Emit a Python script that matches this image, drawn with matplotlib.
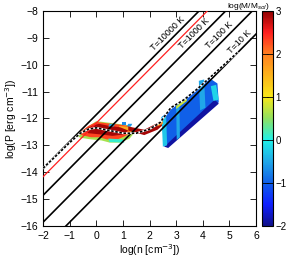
import numpy as np
import matplotlib.pyplot as plt
from matplotlib.colors import LinearSegmentedColormap, Normalize
from matplotlib.cm import ScalarMappable

plt.rcParams['font.family'] = ['Liberation Sans', 'DejaVu Sans']

# isotherm temperatures (K) and Boltzmann constant
temps = [10, 100, 1000, 10000]
kb = 1.38e-16
red_offset = -12.17  # extra red reference line (log P - log n)

# equilibrium curve
curve_n = [-2, -1.5, -1.0, -0.6, -0.3, 0.0, 0.5, 1.0, 1.5, 2.0, 2.4, 2.8, 3.3, 3.8, 4.3, 4.8, 5.3]
curve_p = [-13.85, -13.38, -12.9, -12.55, -12.4, -12.35, -12.45, -12.55, -12.55, -12.4, -12.15,
           -11.6, -11.3, -10.9, -10.45, -10.0, -9.55]

# gas patches: outline (log n, log P) and log(M/Msol)
patch_n = [
    [-0.75, -0.3, 0.0, 0.4, 0.8, 1.2, 1.5, 1.25, 0.9, 0.5, 0.2, -0.2, -0.6],
    [-0.65, -0.3, 0.0, 0.4, 0.8, 1.2, 1.4, 1.1, 0.8, 0.4, 0.1, -0.2, -0.55],
    [0.85, 1.3, 1.35, 0.9],
    [-0.5, -0.1, 0.1, 0.5, 0.9, 1.2, 1.0, 0.6, 0.2, -0.3],
    [0.45, 0.65, 0.7, 0.5],
    [0.95, 1.1, 1.1, 0.95],
    [1.15, 1.3, 1.35, 1.2],
    [0.45, 1.0, 1.05, 0.5],
    [1.2, 1.8, 2.3, 2.55, 2.4, 1.8, 1.2],
    [2.45, 4.25, 4.55, 4.6, 2.55],
    [2.55, 2.7, 4.6, 4.45],
    [2.45, 2.62, 2.66, 2.5],
    [3.0, 3.12, 3.14, 3.02],
    [3.85, 4.05, 4.1, 3.9],
    [4.3, 4.5, 4.6, 4.4],
    [3.0, 3.4, 3.4, 3.0],
    [2.3, 2.5, 2.5, 2.3],
]
patch_p = [
    [-12.62, -12.3, -12.1, -12.15, -12.2, -12.25, -12.45, -12.75, -12.9, -12.9, -12.82, -12.78, -12.72],
    [-12.55, -12.28, -12.13, -12.18, -12.22, -12.28, -12.45, -12.65, -12.78, -12.78, -12.7, -12.7, -12.62],
    [-12.28, -12.32, -12.5, -12.45],
    [-12.45, -12.25, -12.2, -12.28, -12.33, -12.45, -12.6, -12.65, -12.6, -12.55],
    [-12.3, -12.3, -12.2, -12.2],
    [-12.25, -12.25, -12.15, -12.15],
    [-12.3, -12.3, -12.2, -12.2],
    [-12.75, -12.78, -12.9, -12.88],
    [-12.45, -12.62, -12.42, -12.2, -12.12, -12.42, -12.3],
    [-11.95, -10.5, -10.7, -11.4, -13.05],
    [-13.05, -13.1, -11.45, -11.3],
    [-11.95, -11.85, -13.0, -13.05],
    [-11.5, -11.4, -12.7, -12.8],
    [-10.6, -10.55, -11.6, -11.7],
    [-10.8, -10.75, -11.3, -11.35],
    [-11.65, -11.35, -11.25, -11.55],
    [-12.3, -12.2, -12.1, -12.2],
]
patch_m = [0.6, 2.3, 1.6, 2.9, -0.4, -0.7, -0.6, 0.1, 2.9, -1.0, -1.9, -0.3, -0.5, -0.5, -0.2, 0.8, 1.8]

cmap = LinearSegmentedColormap.from_list('mass', [
    (0.0, '#10108a'), (0.1, '#1020ff'), (0.2, '#1060e8'), (0.3, '#20a8e8'),
    (0.4, '#20f0e8'), (0.5, '#90e060'), (0.6, '#f8e818'), (0.8, '#ff8020'),
    (0.9, '#ff2020'), (1.0, '#900000')])
norm = Normalize(-2, 3)

fig = plt.figure(figsize=(2.89, 2.6), dpi=100)
ax = fig.add_axes([0.149, 0.131, 0.737, 0.827])
cax = fig.add_axes([0.906, 0.131, 0.039, 0.827])

for pn, pp, m in zip(patch_n, patch_p, patch_m):
    ax.fill(pn, pp, color=cmap(norm(m)), lw=0, zorder=2)

xs = np.array([-2.0, 6.0])
for t in temps:
    ax.plot(xs, xs + np.log10(kb * t), color='black', lw=1.2, zorder=3)
ax.plot(xs, xs + red_offset, color='#ff2020', lw=0.9, zorder=3)

ax.plot(curve_n, curve_p, color='white', lw=1.4, zorder=4)
ax.plot(curve_n, curve_p, color='black', lw=1.2, ls=(0, (1.5, 1)), zorder=5)

# isotherm labels
lab_t = ['T=10000 K', 'T=1000 K', 'T=100 K', 'T=10 K']
lab_n = [2.85, 3.85, 4.8, 5.55]
for t, s, n in zip([10000, 1000, 100, 10], lab_t, lab_n):
    p = n + np.log10(kb * t)
    ax.text(n - 0.17, p + 0.17, s, fontsize=6.5, rotation=45, ha='center', va='center',
            rotation_mode='anchor', zorder=6)

ax.set_xlim(-2, 6)
ax.set_ylim(-16, -8)
ax.set_xticks(range(-2, 7))
ax.set_yticks(range(-16, -7))
ax.tick_params(direction='in', top=True, right=True, labelsize=7.5, length=4, width=0.6)
for sp in ax.spines.values():
    sp.set_linewidth(0.8)
ax.set_xlabel('log(n [cm$^{-3}$])', fontsize=7.5, labelpad=1)
ax.set_ylabel('log(P [erg cm$^{-3}$])', fontsize=7.5, labelpad=1)

cb = fig.colorbar(ScalarMappable(norm=norm, cmap=cmap), cax=cax)
cb.set_ticks(range(-2, 4))
cb.ax.tick_params(direction='in', left=True, right=True, labelsize=7, length=4, width=0.6, pad=1.5)
cb.outline.set_linewidth(0.8)
fig.text(0.86, 0.998, 'log(M/M$_{sol}$)', fontsize=6, ha='center', va='top')

fig.savefig('out.png', dpi=100)
